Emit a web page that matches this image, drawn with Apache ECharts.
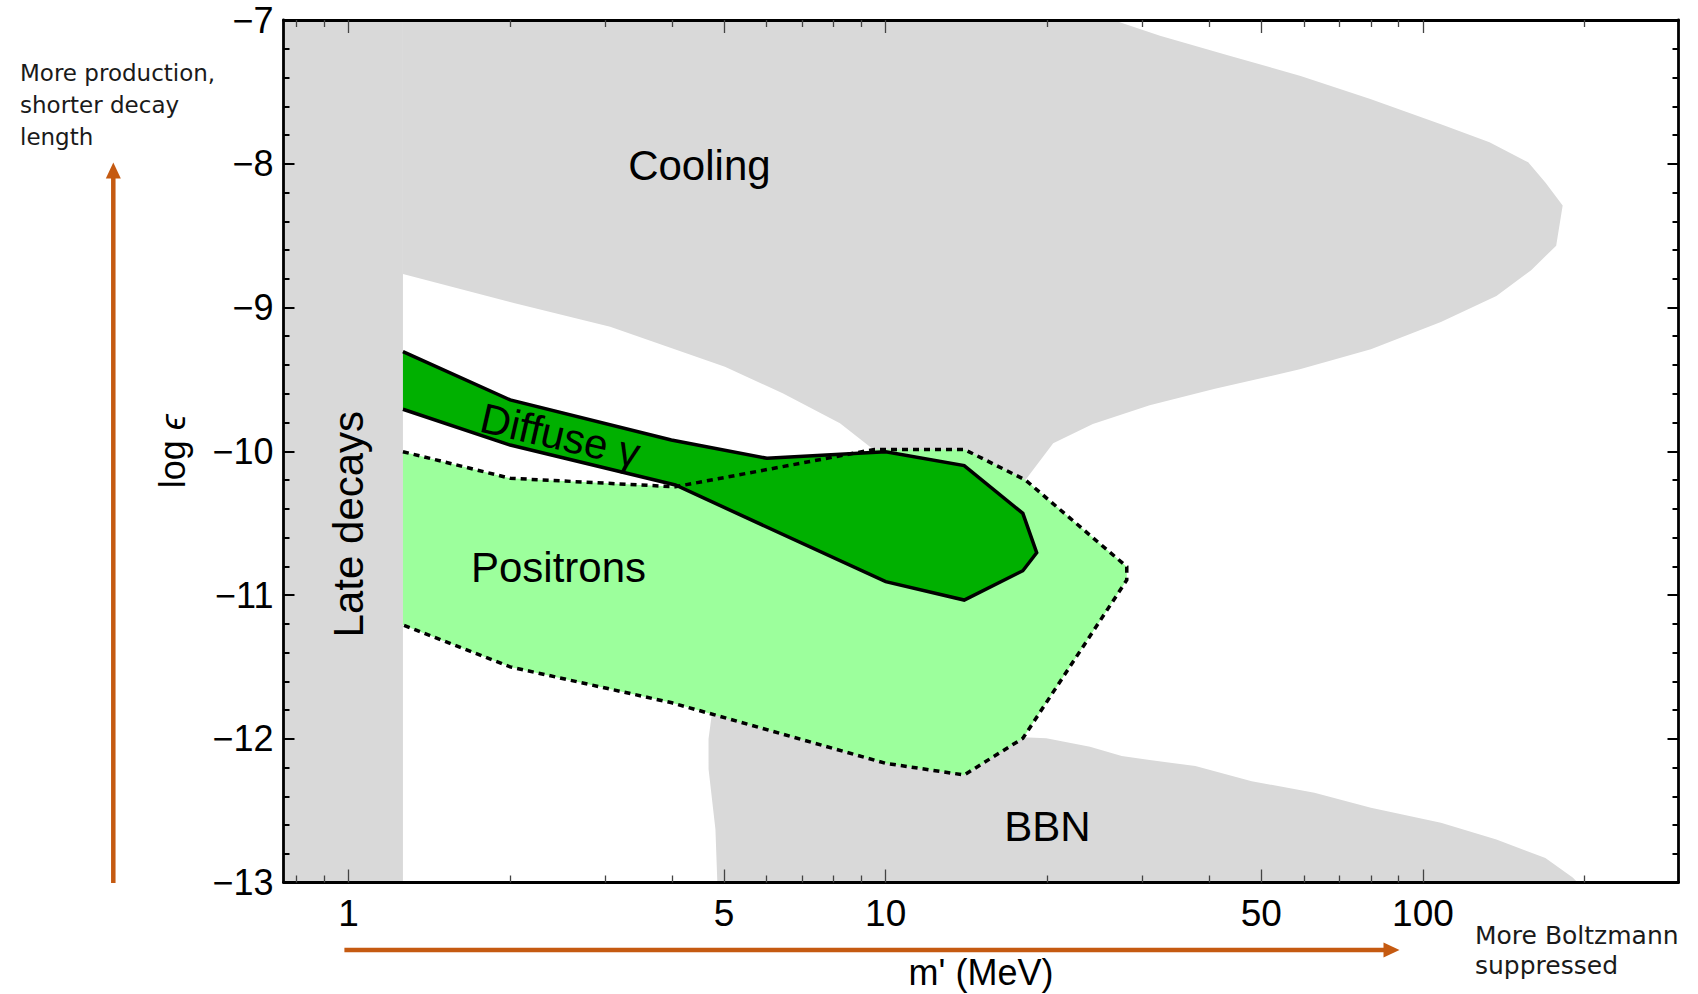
<!DOCTYPE html>
<html>
<head>
<meta charset="utf-8">
<title>m' vs log epsilon constraints</title>
<script src="https://cdn.jsdelivr.net/npm/echarts@6/dist/echarts.min.js"></script>
<style>
  html, body { margin: 0; padding: 0; background: #fff; }
  #chart { width: 1698px; height: 994px; }
</style>
</head>
<body>
<div id="chart"></div>
<script>
// axes: m' in MeV (log scale), log epsilon
var massRange = [0.757, 299];
var epsRange = [-13, -7];
var massTicksMajor = [1, 5, 10, 50, 100];
var massTicksMinor = [0.8, 0.9, 2, 3, 4, 6, 7, 8, 9, 20, 30, 40, 60, 70, 80, 90, 200];

// excluded regions, [m' (MeV), log eps]
var lateDecays = [[0.757, -13], [1.263, -13], [1.263, -7], [0.757, -7]];
var cooling = [
    [1.263, -7], [26.5, -7], [32.4, -7.11], [43.8, -7.25], [59.2, -7.39], [79.8, -7.55],
    [108, -7.725], [133, -7.85], [157, -7.99], [169, -8.13], [182, -8.29], [177, -8.57],
    [159, -8.74], [137, -8.92], [108, -9.10], [80, -9.29], [59, -9.43], [41, -9.565],
    [31, -9.68], [24.3, -9.81], [20.5, -9.945], [18.2, -10.2], [16.5, -10.45], [10.5, -10.35],
    [9.5, -9.99], [8.22, -9.806], [6.43, -9.597], [5.02, -9.412], [3.07, -9.134],
    [2.04, -8.971], [1.263, -8.767]
];
var bbn = [
    [4.75, -11.82], [4.68, -12.0], [4.68, -12.21], [4.82, -12.63], [4.86, -13], [194, -13],
    [190, -12.965], [169, -12.83], [137, -12.70], [108, -12.585], [80, -12.48], [62.8, -12.375],
    [48, -12.295], [37.7, -12.19], [31, -12.148], [27.5, -12.12], [24, -12.055], [19.9, -11.997],
    [18, -11.99], [14, -12.24], [10, -12.16]
];
var positrons = [
    [1.263, -10.003], [2, -10.188], [4.06, -10.247], [9.53, -9.987], [14, -9.987], [18.2, -10.2],
    [28.1, -10.803], [28.1, -10.896], [18, -11.997], [14, -12.252], [10, -12.171], [4, -11.75],
    [2, -11.5], [1.263, -11.209]
];
var diffuse = [
    [1.263, -9.307], [2, -9.643], [3.99, -9.922], [6.01, -10.049], [10, -10.003], [14, -10.10],
    [18, -10.432], [19.1, -10.706], [18, -10.831], [14, -11.035], [10, -10.907], [4.06, -10.235],
    [2, -9.957], [1.263, -9.708]
];

// region names and where they sit [m', log eps]
var labelNames = ['Cooling', 'Positrons', 'BBN', 'Late decays', 'Diffuse γ'];
var labelMass = [4.5, 2.46, 20.0, 1.0, 2.48];
var labelEps = [-8.01, -10.81, -12.61, -10.507, -9.89];
var labelTurn = [0, 0, 0, 90, -13];

var FONT = '"Liberation Sans", Arial, Helvetica, sans-serif';
var NOTE_FONT = '"DejaVu Sans", sans-serif';
var ORANGE = '#c55a11';
var GRAY = '#d9d9d9';

var lg = function(m) { return Math.log(m) / Math.LN10; };
var chart = echarts.init(document.getElementById('chart'), null, {renderer: 'svg'});

function toPixels(api, pts) {
    return pts.map(function(p) { return api.coord([lg(p[0]), p[1]]); });
}

function areaSeries(pts, fill) {
    return {
        type: 'custom', coordinateSystem: 'cartesian2d', clip: true, silent: true,
        data: [[0, -10]],
        renderItem: function(params, api) {
            return {type: 'polygon', shape: {points: toPixels(api, pts)}, style: {fill: fill}};
        }
    };
}

function edgeSeries(pts, dash) {
    return {
        type: 'custom', coordinateSystem: 'cartesian2d', clip: true, silent: true,
        data: [[0, -10]],
        renderItem: function(params, api) {
            return {
                type: 'polyline',
                shape: {points: toPixels(api, pts)},
                style: {fill: null, stroke: '#000', lineWidth: 3.5, lineDash: dash, lineJoin: 'miter'}
            };
        }
    };
}

var labelSeries = {
    type: 'custom', coordinateSystem: 'cartesian2d', silent: true,
    data: labelNames.map(function(n, i) { return [lg(labelMass[i]), labelEps[i]]; }),
    renderItem: function(params, api) {
        var i = params.dataIndex;
        var p = api.coord([api.value(0), api.value(1)]);
        return {
            type: 'text', x: p[0], y: p[1],
            rotation: labelTurn[i] * Math.PI / 180,
            style: {
                text: labelNames[i], fill: '#000',
                font: '42px ' + FONT,
                align: 'center', verticalAlign: 'middle',
                textAlign: 'center', textVerticalAlign: 'middle'
            }
        };
    }
};

var xMin = lg(massRange[0]), xMax = lg(massRange[1]);
var majors = massTicksMajor.map(lg), minors = massTicksMinor.map(lg);

function xAxisCfg(pos, ticks, len, main) {
    return {
        type: 'value', position: pos, min: xMin, max: xMax, z: 10,
        axisLine: {show: main, onZero: false, lineStyle: {color: '#000', width: 2.8}},
        splitLine: {show: false},
        axisTick: {show: true, inside: true, length: len, customValues: ticks,
            lineStyle: {color: '#444', width: 1.3}},
        axisLabel: {show: false}
    };
}

var bottomAxis = xAxisCfg('bottom', majors, 13, true);
bottomAxis.axisLabel = {
    show: true, customValues: majors, margin: 12,
    color: '#000', fontSize: 37, fontFamily: FONT,
    formatter: function(v) { return String(Math.round(Math.pow(10, v))); }
};
bottomAxis.name = "m' (MeV)";
bottomAxis.nameLocation = 'middle';
bottomAxis.nameGap = 72;
bottomAxis.nameTextStyle = {color: '#000', fontSize: 36, fontFamily: FONT};

function yAxisCfg(pos, main) {
    return {
        type: 'value', position: pos, min: epsRange[0], max: epsRange[1], interval: 1, z: 10,
        axisLine: {show: true, onZero: false, lineStyle: {color: '#000', width: 2.8}},
        splitLine: {show: false},
        axisTick: {show: true, inside: true, length: 11, lineStyle: {color: '#000', width: 2}},
        minorTick: {show: true, splitNumber: 5, length: 6, lineStyle: {color: '#000', width: 2}},
        axisLabel: main ? {
            show: true, margin: 10, color: '#000', fontSize: 36, fontFamily: FONT,
            formatter: function(v) { return '\u2212' + Math.abs(v); }
        } : {show: false}
    };
}
var leftAxis = yAxisCfg('left', true);
leftAxis.name = '{a|log }{b|ϵ}';
leftAxis.nameLocation = 'middle';
leftAxis.nameGap = 93;
leftAxis.nameTextStyle = {
    color: '#000', fontSize: 36, fontFamily: FONT,
    rich: {a: {fontSize: 36, fontFamily: FONT}, b: {fontSize: 36, fontFamily: FONT, fontStyle: 'italic'}}
};

var option = {
    animation: false,
    backgroundColor: '#fff',
    grid: {left: 283.5, right: 19.5, top: 20, bottom: 111.5, outerBoundsMode: 'none'},
    xAxis: [
        bottomAxis,
        xAxisCfg('bottom', minors, 7, false),
        xAxisCfg('top', majors, 13, true),
        xAxisCfg('top', minors, 7, false)
    ],
    yAxis: [leftAxis, yAxisCfg('right', false)],
    series: [
        areaSeries(cooling, GRAY),
        areaSeries(bbn, GRAY),
        areaSeries(lateDecays, GRAY),
        areaSeries(positrons, '#9cff9c'),
        areaSeries(diffuse, '#00b000'),
        edgeSeries(diffuse, null),
        edgeSeries(positrons, [6, 5]),
        labelSeries
    ],
    graphic: [
        {type: 'line', shape: {x1: 113.3, y1: 883, x2: 113.3, y2: 176}, style: {stroke: ORANGE, lineWidth: 4.5}},
        {type: 'polygon', shape: {points: [[113.3, 162.5], [105.8, 178.5], [120.8, 178.5]]}, style: {fill: ORANGE}},
        {type: 'line', shape: {x1: 344.4, y1: 950, x2: 1386, y2: 950}, style: {stroke: ORANGE, lineWidth: 4.5}},
        {type: 'polygon', shape: {points: [[1399.5, 950], [1383.5, 942.5], [1383.5, 957.5]]}, style: {fill: ORANGE}},
        {
            type: 'text', x: 20, y: 57,
            style: {
                text: 'More production,\nshorter decay\nlength', fill: '#1a1a1a',
                font: '23px ' + NOTE_FONT, lineHeight: 32,
                align: 'left', verticalAlign: 'top', textAlign: 'left', textVerticalAlign: 'top'
            }
        },
        {
            type: 'text', x: 1475, y: 920,
            style: {
                text: 'More Boltzmann\nsuppressed', fill: '#1a1a1a',
                font: '25px ' + NOTE_FONT, lineHeight: 30,
                align: 'left', verticalAlign: 'top', textAlign: 'left', textVerticalAlign: 'top'
            }
        }
    ]
};

chart.setOption(option);
</script>
</body>
</html>
